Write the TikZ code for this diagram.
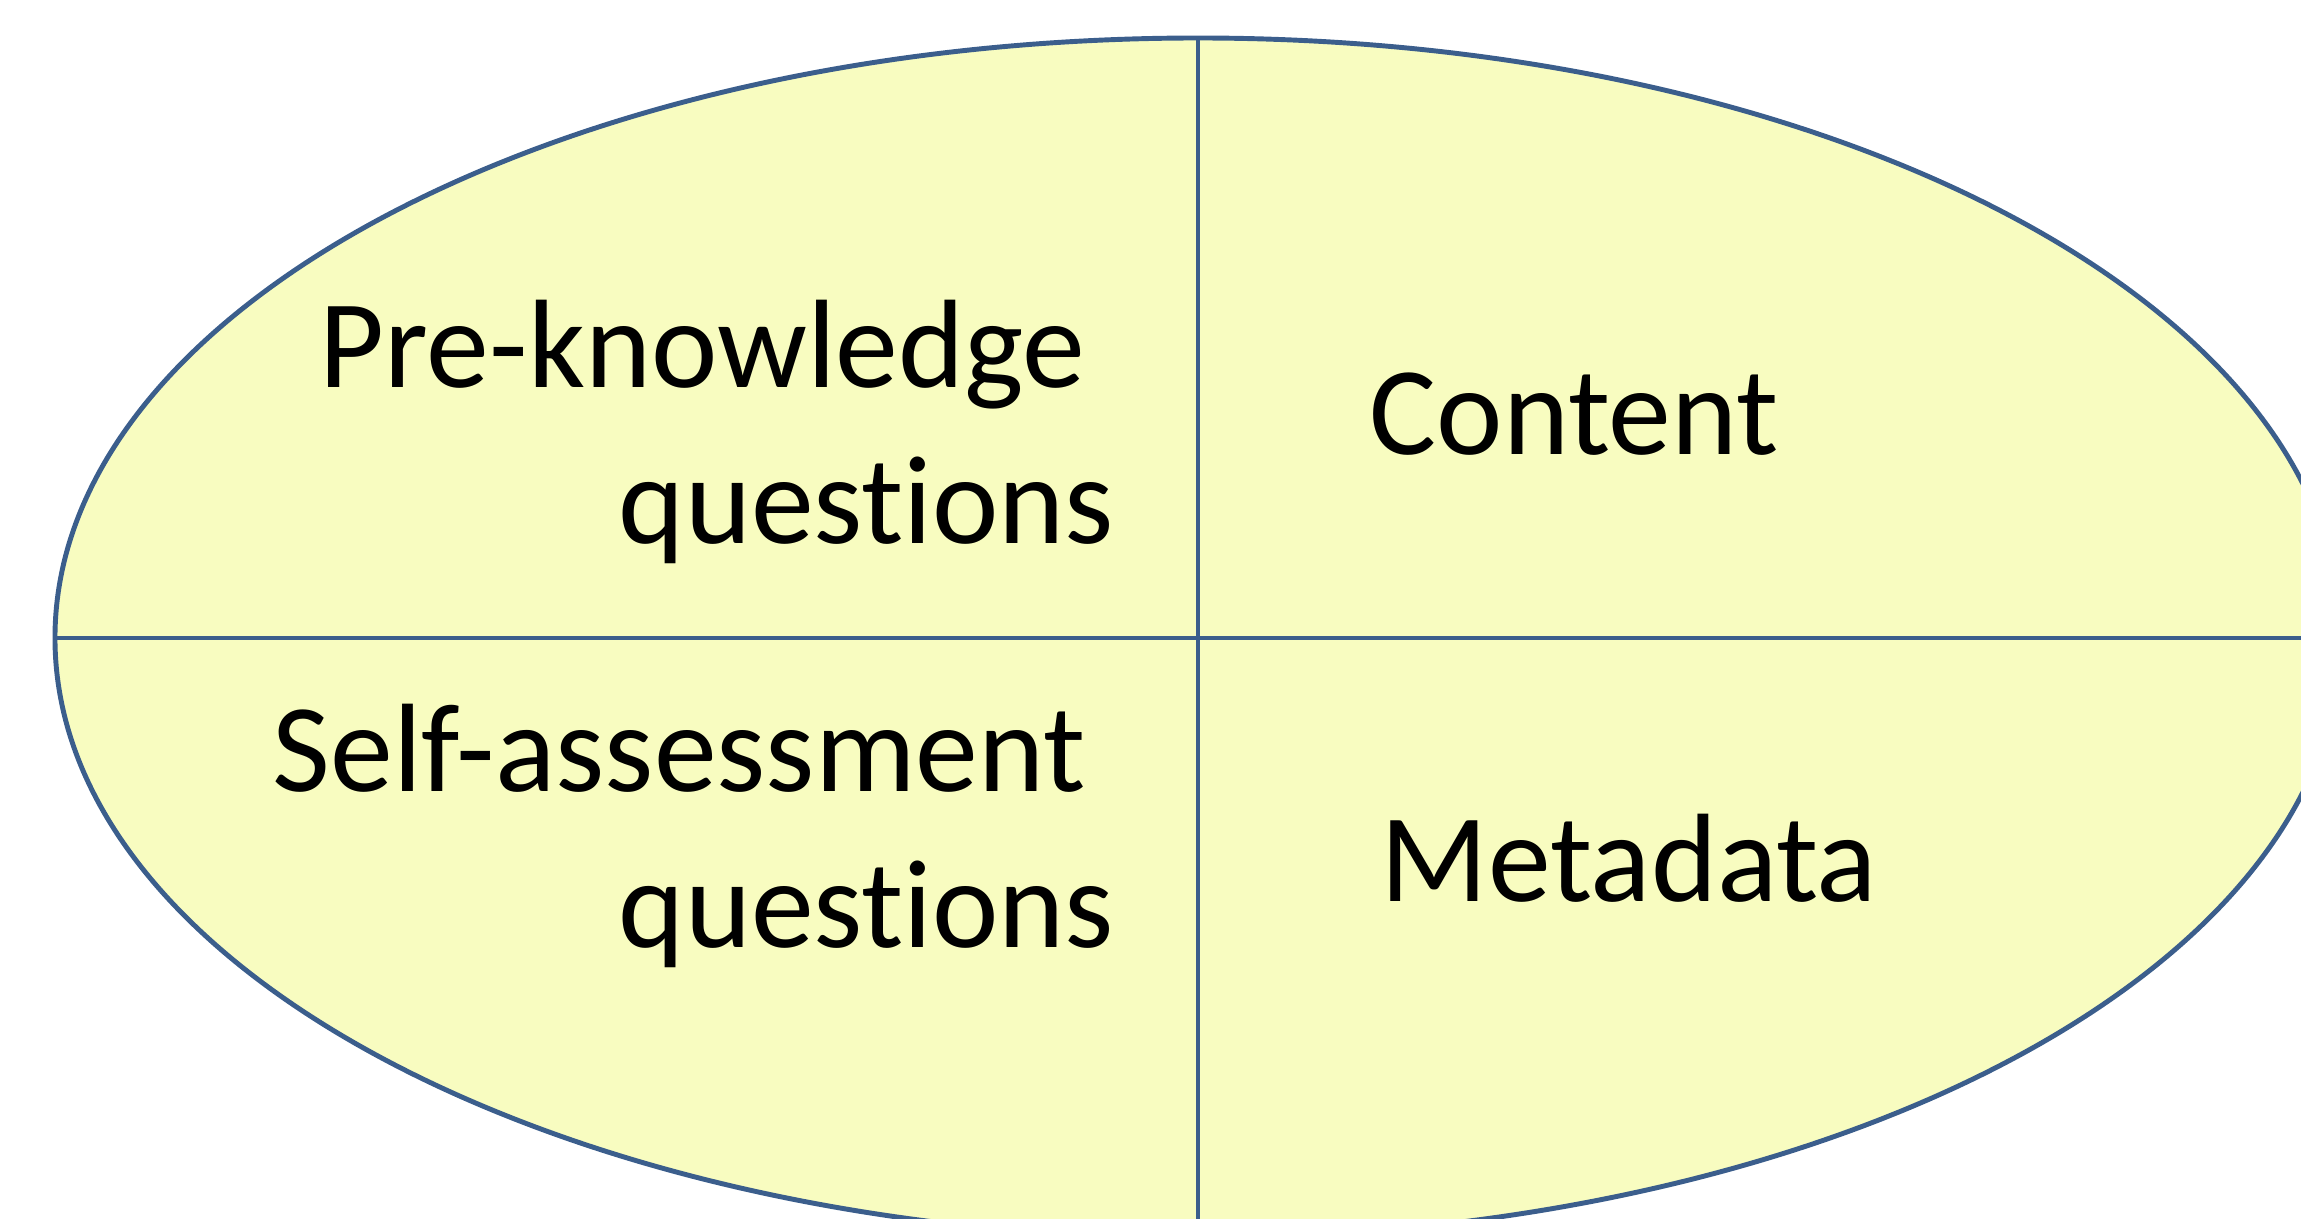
\documentclass[tikz,border=0pt]{standalone}
\usepackage{fontspec}
\setmainfont[Ligatures=NoCommon]{Carlito}
\definecolor{cellfill}{HTML}{F8FCC0}
\definecolor{cellline}{HTML}{3B5E8C}

\begin{document}
\begin{tikzpicture}[scale=1,
		label/.style={inner sep=0pt, font=\fontsize{35.8}{44.3}\selectfont}]
			\useasboundingbox (-11.98,-5.80) rectangle (11.03,6.38);
			\clip (-11.98,-5.80) rectangle (11.03,6.38);
			\draw[cellline, fill=cellfill, line width=1.4pt] (0,0) ellipse (11.43 and 6.00);
			\draw[cellline, line width=1.4pt] (0,6.00) -- (0,-6.00);
			\draw[cellline, line width=1.4pt] (-11.43,0) -- (11.43,0);
			
			\node[label, anchor=base east, align=right] (prek) at (-0.83,0.95) {Pre-knowledge\kern0.23em\\questions};
			\node[label, anchor=base west] (content) at (1.71,1.83) {Content};
			\node[label, anchor=base east, align=right] (selfa) at (-0.83,-3.09) {Self-assessment\kern0.23em\\questions};
			\node[label, anchor=base west] (meta) at (1.82,-2.63) {Metadata};
		\end{tikzpicture}
\end{document}
